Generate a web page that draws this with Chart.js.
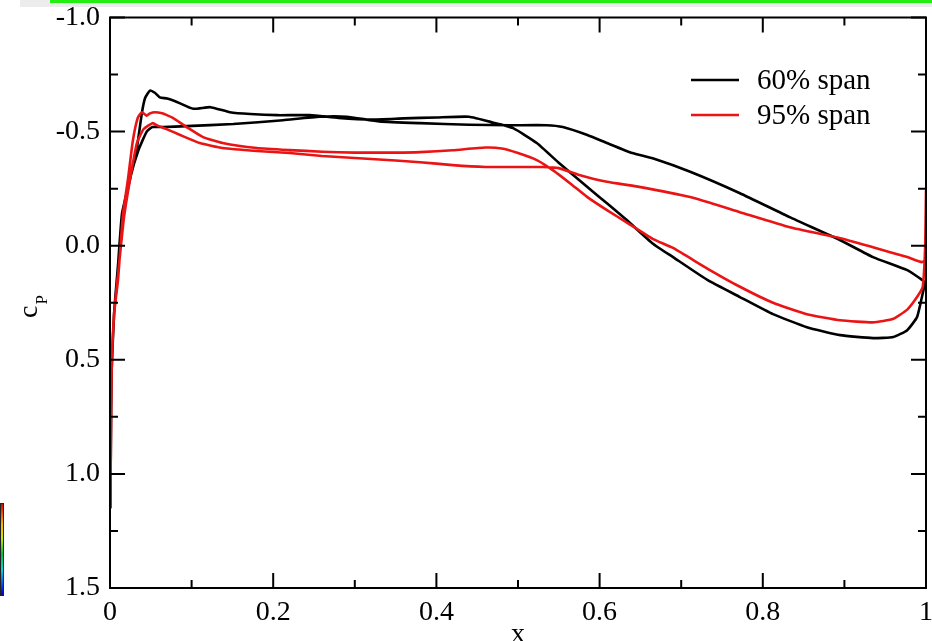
<!doctype html>
<html><head>
<meta charset="utf-8">
<script src="https://cdn.jsdelivr.net/npm/chart.js"></script>
<style type="text/css">
html, body { margin: 0; padding: 0; background: #fff; overflow: hidden; }
#wrap { position: relative; width: 932px; height: 641px; }
#topbar { position: absolute; left: 20px; top: 0; width: 912px; height: 7px; background: #ececec; }
#greenbar { position: absolute; left: 50px; top: 0; width: 882px; height: 3px; background: #22ee11; }
#cbar { position: absolute; left: 0; top: 503px; width: 2px; height: 91px; border: 1px solid #222;
        background: linear-gradient(#e00000, #ffb000 22%, #c8e800 38%, #00c040 55%, #00d8e0 72%, #0040ff 90%, #0000c0); }
canvas { position: absolute; left: 0; top: 0; }
</style>
</head>
<body>
<div id="wrap">
    <canvas id="myChart" width="932" height="641"></canvas>
    <div id="topbar"></div>
    <div id="greenbar"></div>
    <div id="cbar"></div>
</div>

<script type="text/javascript">
// axis ticks
var xTickValues = [0, 0.2, 0.4, 0.6, 0.8, 1];
var xTickLabels = ['0', '0.2', '0.4', '0.6', '0.8', '1'];
var xMinorTicks = [0.1, 0.3, 0.5, 0.7, 0.9];
var yTickValues = [-1, -0.5, 0, 0.5, 1, 1.5];
var yTickLabels = ['-1.0', '-0.5', '0.0', '0.5', '1.0', '1.5'];
var yMinorTicks = [-0.75, -0.25, 0.25, 0.75, 1.25];

// 60% span, branch with the leading edge peak (LE -> TE)
var span60A_x = [0.0005, 0.001, 0.002, 0.005, 0.0086, 0.0147, 0.0245, 0.033, 0.039, 0.043, 0.049, 0.055, 0.061, 0.07, 0.082,
    0.102, 0.123, 0.147, 0.172, 0.205, 0.245, 0.28, 0.32, 0.36, 0.40, 0.44, 0.469, 0.494, 0.523, 0.551, 0.585, 0.609,
    0.634, 0.665, 0.69, 0.732, 0.772, 0.8125, 0.854, 0.895, 0.935, 0.96, 0.977, 0.989, 0.995, 0.999];
var span60A_cp = [1.15, 0.9, 0.55, 0.3, 0.15, -0.14, -0.29, -0.43, -0.58, -0.647, -0.68, -0.67, -0.65, -0.645, -0.63,
    -0.60, -0.607, -0.585, -0.577, -0.572, -0.572, -0.56, -0.553, -0.558, -0.562, -0.565, -0.54, -0.515, -0.45, -0.36, -0.257, -0.186,
    -0.11, -0.01, 0.05, 0.15, 0.225, 0.3, 0.357, 0.392, 0.405, 0.4, 0.37, 0.313, 0.225, 0.16];
// 60% span, other branch (LE -> TE)
var span60B_x = [0.0005, 0.001, 0.002, 0.005, 0.009, 0.015, 0.025, 0.035, 0.045, 0.052, 0.065, 0.094, 0.151, 0.212, 0.257,
    0.29, 0.33, 0.38, 0.44, 0.49, 0.535, 0.555, 0.585, 0.609, 0.64, 0.665, 0.711, 0.772, 0.833, 0.895, 0.935, 0.977, 0.9926, 0.999];
var span60B_cp = [1.15, 0.9, 0.55, 0.3, 0.12, -0.12, -0.3, -0.42, -0.5, -0.52, -0.52, -0.524, -0.533, -0.55, -0.565,
    -0.565, -0.545, -0.537, -0.53, -0.528, -0.528, -0.52, -0.485, -0.45, -0.406, -0.383, -0.324, -0.23, -0.125, -0.024, 0.05, 0.107, 0.143, 0.16];

// 95% span, branch with the leading edge peak (LE -> TE, ends on the TE spike)
var span95A_x = [0.0005, 0.001, 0.002, 0.005, 0.0098, 0.016, 0.022, 0.028, 0.034, 0.039, 0.045, 0.049, 0.055, 0.064, 0.071,
    0.077, 0.094, 0.114, 0.138, 0.18, 0.22, 0.26, 0.30, 0.35, 0.38, 0.42, 0.46, 0.48, 0.50, 0.523, 0.543, 0.564, 0.585,
    0.609, 0.634, 0.665, 0.69, 0.732, 0.772, 0.8125, 0.854, 0.895, 0.935, 0.96, 0.977, 0.989, 0.996, 0.999, 1.0];
var span95A_cp = [1.15, 0.9, 0.55, 0.3, 0.15, -0.14, -0.29, -0.46, -0.56, -0.585, -0.57, -0.58, -0.585, -0.58, -0.57,
    -0.56, -0.52, -0.476, -0.45, -0.428, -0.419, -0.412, -0.408, -0.408, -0.41, -0.418, -0.43, -0.426, -0.406, -0.375, -0.33, -0.273, -0.213,
    -0.156, -0.1, -0.03, 0.01, 0.1, 0.18, 0.25, 0.3, 0.327, 0.336, 0.32, 0.28, 0.225, 0.18, 0.0, -0.24];
// 95% span, other branch (LE -> TE)
var span95B_x = [0.0005, 0.001, 0.002, 0.005, 0.01, 0.017, 0.025, 0.033, 0.041, 0.052, 0.059, 0.07, 0.086, 0.11, 0.138,
    0.18, 0.22, 0.26, 0.32, 0.38, 0.42, 0.46, 0.50, 0.53, 0.55, 0.575, 0.609, 0.645, 0.711, 0.772, 0.833, 0.895, 0.935, 0.977, 0.995, 0.9995];
var span95B_cp = [1.15, 0.9, 0.55, 0.3, 0.12, -0.12, -0.3, -0.45, -0.51, -0.537, -0.525, -0.51, -0.485, -0.45, -0.428,
    -0.415, -0.406, -0.393, -0.38, -0.366, -0.353, -0.345, -0.345, -0.345, -0.34, -0.31, -0.28, -0.26, -0.213, -0.147, -0.081, -0.033, 0.007, 0.05, 0.072, 0.06];

var serif = '"Liberation Serif", "DejaVu Serif", serif';

// one closed loop: first branch out to the TE, second branch back to the LE
function loop(ax, acp, bx, bcp) {
    var pts = [];
    for (var i = 0; i < ax.length; i++) pts.push({x: ax[i], y: acp[i]});
    for (var j = bx.length - 1; j >= 0; j--) pts.push({x: bx[j], y: bcp[j]});
    return pts;
}

var frame = {
    id: 'frame',
    afterDraw: function(chart) {
        var ctx = chart.ctx, a = chart.chartArea;
        var x = chart.scales.x, y = chart.scales.y;
        ctx.save();
        ctx.strokeStyle = '#000';
        ctx.lineWidth = 2;
        ctx.strokeRect(a.left, a.top, a.right - a.left, a.bottom - a.top);

        // ticks point inwards, on all four sides
        ctx.beginPath();
        function xt(v, len) {
            var px = x.getPixelForValue(v);
            ctx.moveTo(px, a.bottom); ctx.lineTo(px, a.bottom - len);
            ctx.moveTo(px, a.top); ctx.lineTo(px, a.top + len);
        }
        function yt(v, len) {
            var py = y.getPixelForValue(v);
            ctx.moveTo(a.left, py); ctx.lineTo(a.left + len, py);
            ctx.moveTo(a.right, py); ctx.lineTo(a.right - len, py);
        }
        xTickValues.forEach(function(v) { xt(v, 15); });
        xMinorTicks.forEach(function(v) { xt(v, 8); });
        yTickValues.forEach(function(v) { yt(v, 15); });
        yMinorTicks.forEach(function(v) { yt(v, 8); });
        ctx.stroke();

        // legend
        ctx.font = '29px ' + serif;
        ctx.textBaseline = 'alphabetic';
        ctx.textAlign = 'left';
        chart.data.datasets.forEach(function(ds, i) {
            var ly = 80 + i * 35;
            ctx.strokeStyle = ds.borderColor;
            ctx.lineWidth = 2.4;
            ctx.beginPath();
            ctx.moveTo(691, ly); ctx.lineTo(739, ly);
            ctx.stroke();
            ctx.fillStyle = '#000';
            ctx.fillText(ds.label, 757, ly + 9);
        });

        // axis titles
        ctx.font = '28px ' + serif;
        ctx.textAlign = 'center';
        ctx.fillText('x', (a.left + a.right) / 2, 642);
        ctx.translate(37, 318);
        ctx.rotate(-Math.PI / 2);
        ctx.textAlign = 'left';
        ctx.fillText('c', 0, 0);
        var cw = ctx.measureText('c').width;
        ctx.font = '17px ' + serif;
        ctx.fillText('P', cw + 1, 10);
        ctx.restore();
    }
};

var config = {
    type: 'scatter',
    data: {
        datasets: [{
            label: '60% span',
            data: loop(span60A_x, span60A_cp, span60B_x, span60B_cp),
            borderColor: '#000000',
            backgroundColor: '#000000',
            order: 1
        }, {
            label: '95% span',
            data: loop(span95A_x, span95A_cp, span95B_x, span95B_cp),
            borderColor: 'rgb(235, 20, 20)',
            backgroundColor: 'rgb(235, 20, 20)',
            order: 0
        }]
    },
    options: {
        responsive: false,
        animation: false,
        devicePixelRatio: 1,
        showLine: true,
        elements: {
            point: { radius: 0, hoverRadius: 0 },
            line: { borderWidth: 2.6, tension: 0.15, fill: false }
        },
        layout: { padding: { left: 0, right: 6, top: 17.5, bottom: 0 } },
        plugins: {
            legend: { display: false },
            tooltip: { enabled: false }
        },
        scales: {
            x: {
                type: 'linear',
                min: 0, max: 1,
                grid: { display: false, drawTicks: false },
                border: { display: false },
                afterBuildTicks: function(s) { s.ticks = xTickValues.map(function(v) { return {value: v}; }); },
                afterFit: function(s) { s.height = 53; s.paddingLeft = 0; s.paddingRight = 0; },
                ticks: {
                    color: '#000',
                    padding: 8,
                    maxRotation: 0,
                    autoSkip: false,
                    font: { family: serif, size: 28 },
                    callback: function(v) { return xTickLabels[xTickValues.indexOf(v)]; }
                }
            },
            y: {
                type: 'linear',
                reverse: true,
                min: -1, max: 1.5,
                grid: { display: false, drawTicks: false },
                border: { display: false },
                afterBuildTicks: function(s) { s.ticks = yTickValues.map(function(v) { return {value: v}; }); },
                afterFit: function(s) { s.width = 110; s.paddingTop = 0; s.paddingBottom = 0; },
                ticks: {
                    color: '#000',
                    padding: 10,
                    autoSkip: false,
                    font: { family: serif, size: 28 },
                    callback: function(v) { return yTickLabels[yTickValues.indexOf(v)]; }
                }
            }
        }
    },
    plugins: [frame]
};

var myChart = new Chart(document.getElementById('myChart'), config);
</script>
</body>
</html>
